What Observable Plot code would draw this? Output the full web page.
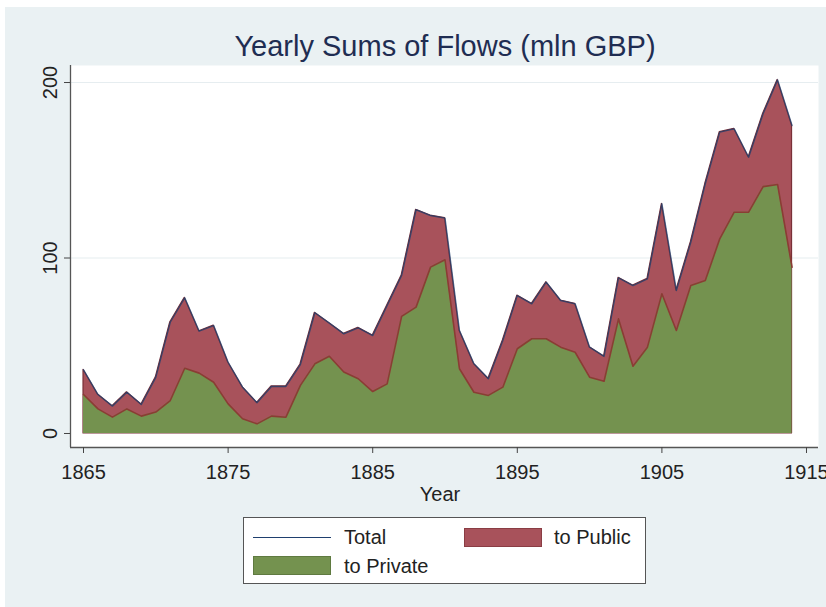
<!DOCTYPE html>
<html>
<head>
<meta charset="utf-8">
<script src="https://cdn.jsdelivr.net/npm/d3@7"></script>
<script src="https://cdn.jsdelivr.net/npm/@observablehq/plot@0.6"></script>
<style>
  body { margin: 0; background: #fff; font-family: "Liberation Sans", Arial, sans-serif; }
  #wrap { position: relative; width: 826px; height: 607px; overflow: hidden; }
  #bg { position: absolute; left: 5px; top: 7px; right: 0; bottom: 0; background: #eaf1f3; }
  #chart { position: absolute; left: 0; top: 0; }
  #title { position: absolute; left: 0; width: 890px; top: 29px; text-align: center; font-size: 29px; color: #1f2d52; line-height: 34px; }
  #xlabel { position: absolute; left: 340px; width: 200px; top: 483px; text-align: center; font-size: 20px; color: #222; }
  #legend { position: absolute; left: 243px; top: 517px; width: 401px; height: 65px; background: #fff; border: 1px solid #555; }
  .item { position: absolute; font-size: 20px; color: #222; line-height: 22px; }
  .sw { position: absolute; width: 78px; height: 19px; }
</style>
</head>
<body>
<div id="wrap">
  <div id="bg"></div>
  <div id="chart"></div>
  <div id="title">Yearly Sums of Flows (mln GBP)</div>
  <div id="xlabel">Year</div>
  <div id="legend"></div>
</div>
<script>
const years = [1865,1866,1867,1868,1869,1870,1871,1872,1873,1874,1875,1876,1877,1878,1879,1880,1881,1882,1883,1884,1885,1886,1887,1888,1889,1890,1891,1892,1893,1894,1895,1896,1897,1898,1899,1900,1901,1902,1903,1904,1905,1906,1907,1908,1909,1910,1911,1912,1913,1914];
const total = [36.3,22.2,15.6,23.5,16.5,32,63.4,77.3,58.3,61.5,40.6,26.4,17.5,26.8,26.8,39.3,68.8,62.9,56.8,60.2,55.8,72.9,90,127.5,124.2,122.7,58.7,39.7,31.2,53,78.6,73.9,86.2,75.8,73.9,49.2,43.9,88.7,84.3,88.1,130.9,81.5,109,142.3,171.7,173.6,157.4,182.2,201.5,175.5];
const toPrivate = [22.2,14,9.3,14,9.9,12.2,18.8,37.2,34.4,29.2,16.9,8.4,5.5,9.9,9.3,27.4,39.7,44,35,31.2,23.9,28.3,66.7,72,94.8,99,36.9,23.5,21.7,26.4,48.3,54,54,49.2,46.3,32.1,29.8,65.3,38.3,49.2,79.6,58.7,84.3,87.2,110.9,126.1,126.1,140.7,141.9,94.8];
const xTicks = [1865,1875,1885,1895,1905,1915];
const yTicks = [0,100,200];
const legendLabels = ["Total", "to Public", "to Private"];

const data = years.map((y, i) => ({year: y, total: total[i], priv: toPrivate[i]}));

const colTotal = "#1f3f6e";
const colPublic = "#a8525b";
const colPrivate = "#74924f";

const xDom = [1864.1, 1915.83];
const yDom = [-7.98, 209.7];

const chart = Plot.plot({
  width: 826,
  height: 607,
  marginLeft: 70,
  marginRight: 8,
  marginTop: 65,
  marginBottom: 160,
  style: {background: "transparent", fontFamily: "'Liberation Sans', Arial, sans-serif", color: "#222"},
  x: {domain: xDom},
  y: {domain: yDom},
  marks: [
    Plot.frame({fill: "#fff", stroke: "none"}),
    Plot.gridY(yTicks.filter(d => d > 0), {stroke: "#e6edf0", strokeOpacity: 1, strokeWidth: 1.2}),
    Plot.areaY(data, {x: "year", y1: 0, y2: "total", fill: colPublic, stroke: "#7a3038", strokeWidth: 1.2}),
    Plot.areaY(data, {x: "year", y1: 0, y2: "priv", fill: colPrivate}),
    Plot.lineY(data, {x: "year", y: "priv", stroke: "#8a3d34", strokeWidth: 1.6}),
    Plot.lineY(data, {x: "year", y: "total", stroke: colTotal, strokeWidth: 1.4, strokeOpacity: 0.75}),
    Plot.ruleX([xDom[0]], {stroke: "#555", strokeWidth: 1.3}),
    Plot.ruleY([yDom[0]], {stroke: "#555", strokeWidth: 1.3}),
    Plot.axisX({ticks: xTicks, tickFormat: d => String(d), tickSize: 6, tickPadding: 11, fontSize: 20, label: null, stroke: "#444"}),
    Plot.axisY({ticks: yTicks, tickSize: 6, tickPadding: 8, tickRotate: -90, fontSize: 20, label: null, stroke: "#444"})
  ]
});
document.getElementById("chart").appendChild(chart);

const lg = document.getElementById("legend");
lg.innerHTML = `
  <div style="position:absolute;left:9px;top:19px;width:78px;height:0;border-top:1.5px solid ${colTotal}"></div>
  <div class="item" style="left:100px;top:8px">${legendLabels[0]}</div>
  <div class="sw" style="left:220px;top:10px;background:${colPublic};border:1px solid #8a3d44;box-sizing:border-box"></div>
  <div class="item" style="left:310px;top:8px">${legendLabels[1]}</div>
  <div class="sw" style="left:9px;top:38px;background:${colPrivate};border:1px solid #5f7a40;box-sizing:border-box"></div>
  <div class="item" style="left:100px;top:37px">${legendLabels[2]}</div>
`;
</script>
</body>
</html>
